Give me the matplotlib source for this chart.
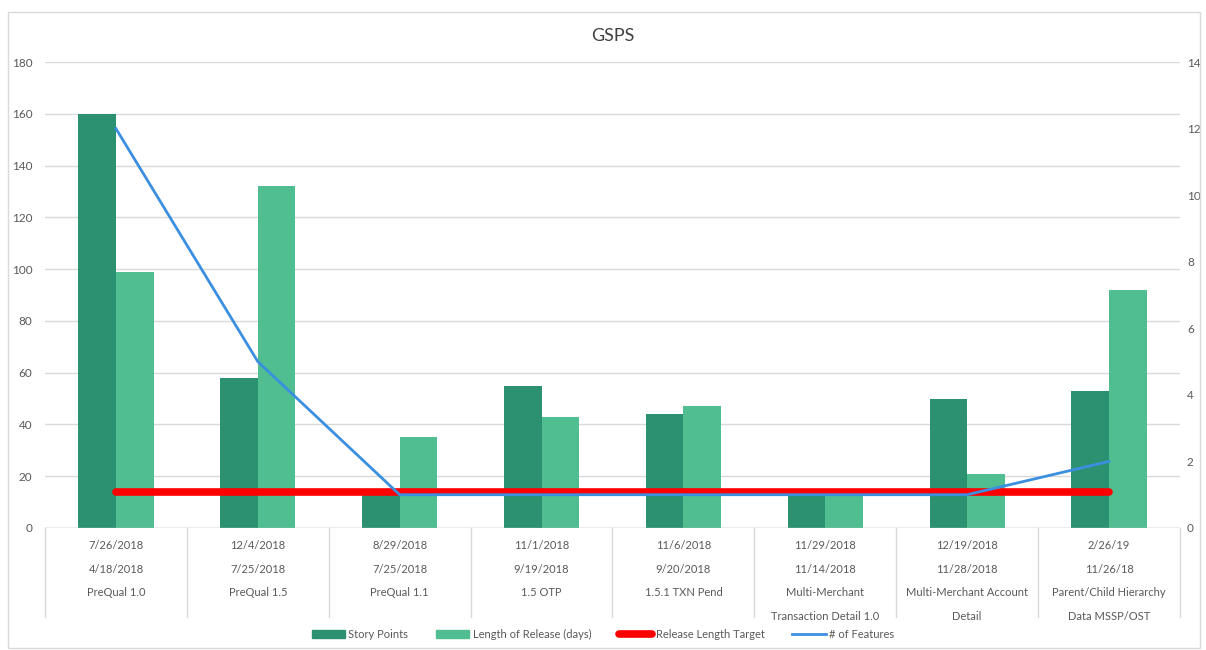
import matplotlib.pyplot as plt
from matplotlib.patches import Rectangle
from matplotlib.lines import Line2D

plt.rcParams['font.family'] = ['Lato', 'DejaVu Sans']

# Release data
end_dates = ['7/26/2018', '12/4/2018', '8/29/2018', '11/1/2018',
             '11/6/2018', '11/29/2018', '12/19/2018', '2/26/19']
start_dates = ['4/18/2018', '7/25/2018', '7/25/2018', '9/19/2018',
               '9/20/2018', '11/14/2018', '11/28/2018', '11/26/18']
releases = ['PreQual 1.0', 'PreQual 1.5', 'PreQual 1.1', '1.5 OTP',
            '1.5.1 TXN Pend', 'Multi-Merchant\nTransaction Detail 1.0',
            'Multi-Merchant Account\nDetail', 'Parent/Child Hierarchy\nData MSSP/OST']
story_points = [160, 58, 14, 55, 44, 13, 50, 53]
release_length = [99, 132, 35, 43, 47, 13, 21, 92]
release_target = [14, 14, 14, 14, 14, 14, 14, 14]
num_features = [12, 5, 1, 1, 1, 1, 1, 2]

dark_green = '#2C9170'
light_green = '#50BE91'
text_gray = '#595959'

fig = plt.figure(figsize=(12.06, 6.5), dpi=100)
ax = fig.add_axes([0.0373, 0.1877, 0.9411, 0.7169])
ax2 = ax.twinx()

x = list(range(len(releases)))
w = 0.265
ax.bar([i - w / 2 for i in x], story_points, width=w, color=dark_green, zorder=2)
ax.bar([i + w / 2 for i in x], release_length, width=w, color=light_green, zorder=2)
ax.plot(x, release_target, color='#FF0000', linewidth=5.5,
        solid_capstyle='round', zorder=3)
ax2.plot(x, num_features, color='#3B8FE0', linewidth=2)

ax.set_xlim(-0.5, len(releases) - 0.5)
ax.set_ylim(0, 180)
ax.set_yticks(range(0, 181, 20))
ax2.set_ylim(0, 14)
ax2.set_yticks(range(0, 15, 2))
ax.grid(axis='y', color='#D9D9D9', linewidth=1, zorder=0)
ax.set_axisbelow(True)

for a in (ax, ax2):
    for side in ('top', 'left', 'right', 'bottom'):
        a.spines[side].set_visible(False)
    a.tick_params(axis='y', length=0, labelsize=8.5, labelcolor=text_gray)
ax.tick_params(axis='y', pad=9)
ax2.tick_params(axis='y', pad=5)
ax.axhline(0, color='#BFBFBF', linewidth=1, zorder=4)

# table-style category labels
ax.set_xticks(x)
ax.set_xticklabels([f'{e}\n{s}\n{r}' for e, s, r in zip(end_dates, start_dates, releases)],
                   linespacing=2.38, va='top')
ax.tick_params(axis='x', length=0, pad=9, labelsize=8, labelcolor=text_gray)
for b in range(len(releases) + 1):
    ax.plot([b - 0.5, b - 0.5], [0, -0.191], color='#D9D9D9', linewidth=1,
            transform=ax.get_xaxis_transform(), clip_on=False)

ax.set_title('GSPS', fontsize=13, color='#404040', pad=15)

handles = [Rectangle((0, 0), 1, 1, color=dark_green),
           Rectangle((0, 0), 1, 1, color=light_green),
           Line2D([], [], color='#FF0000', linewidth=5.5, solid_capstyle='round'),
           Line2D([], [], color='#3B8FE0', linewidth=2)]
labels = ['Story Points', 'Length of Release (days)', 'Release Length Target', '# of Features']
fig.legend(handles, labels, loc='center', bbox_to_anchor=(0.5, 0.024), ncol=4,
           frameon=False, fontsize=8, labelcolor=text_gray, handlelength=3,
           handleheight=0.7, handletextpad=0.3, columnspacing=2.5)

# chart border
fig.patches.append(Rectangle((8 / 1206, 2 / 650), 1192 / 1206, 636 / 650,
                             transform=fig.transFigure, fill=False,
                             edgecolor='#D9D9D9', linewidth=1))

fig.savefig('out.png', dpi=100)
